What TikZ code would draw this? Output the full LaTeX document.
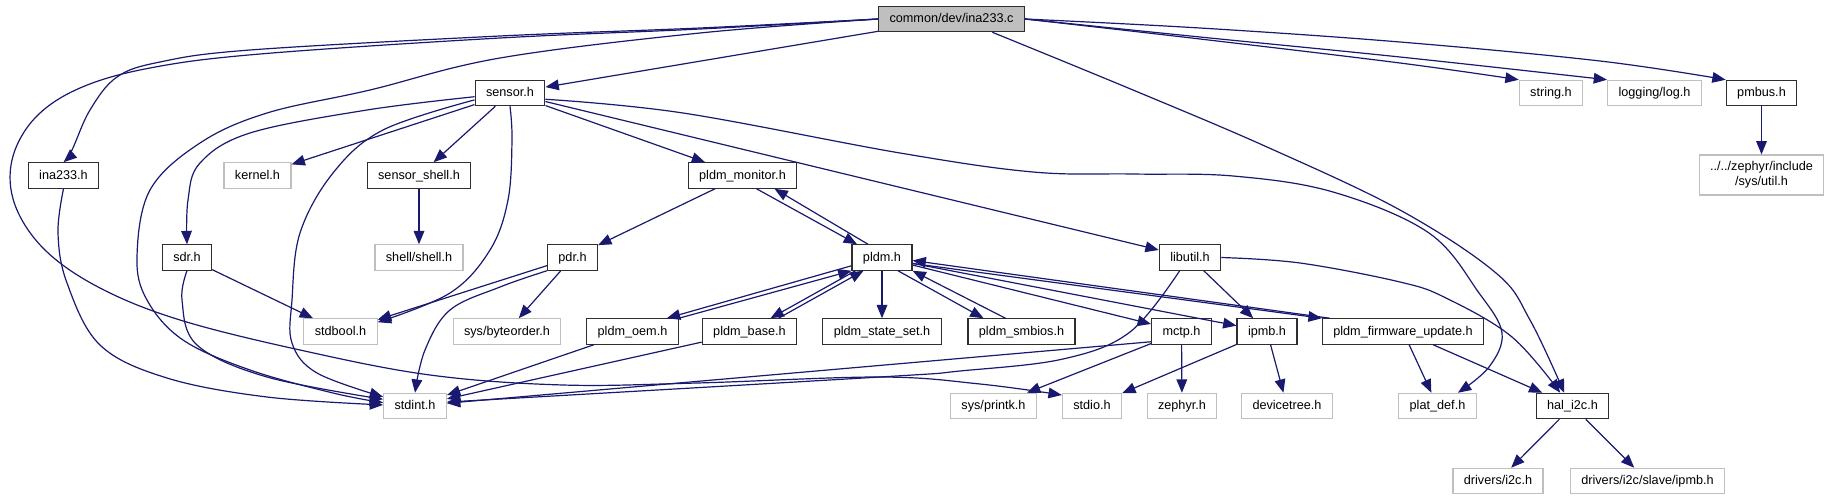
\documentclass[tikz,border=0pt]{standalone}
\usepackage{fontspec}
\setmainfont{Liberation Sans}
\usepackage{xcolor}
\definecolor{edgeBlue}{HTML}{191970}
\definecolor{rootGrey}{HTML}{BFBFBF}
\definecolor{extGrey}{HTML}{BFBFBF}
\definecolor{linkBorder}{HTML}{2E2E2E}
\usepackage{tikz}
\usetikzlibrary{arrows.meta,calc}
\tikzset{
  incnode/.style={
    draw=linkBorder,
    fill=white,
    line width=0.9pt,
    font=\fontsize{9.5}{11.25}\selectfont,
    inner xsep=8.2pt,
    inner ysep=0pt,
    minimum height=19pt,
    text height=7.4pt,
    text depth=2pt
  },
  incroot/.style={
    incnode,
    fill=rootGrey
  },
  incext/.style={
    incnode,
    draw=extGrey
  },
  incline/.style={
    draw=edgeBlue,
    line width=0.9pt,
    -{Triangle[length=10pt,width=8pt]}
  }
}
\begin{document}
\begin{tikzpicture}[x=0.75pt,y=-0.75pt]
  \path[use as bounding box, fill=white] (0,0) rectangle (1829,500);
  \node[incroot] (inac) at (951.5,19) {common/dev/ina233.c};
  \node[incnode] (sensorh) at (510,93) {sensor.h};
  \node[incext] (stringh) at (1551,93) {string.h};
  \node[incext] (logh) at (1654.5,93) {logging/log.h};
  \node[incnode] (pmbush) at (1761.5,93) {pmbus.h};
  \node[incnode] (inah) at (63.5,175.5) {ina233.h};
  \node[incext] (kernelh) at (257.5,175.5) {kernel.h};
  \node[incnode] (sshellh) at (419,175.5) {sensor\_shell.h};
  \node[incnode] (monitorh) at (742.5,175.5) {pldm\_monitor.h};
  \node[incext, text height=, text depth=, align=center, minimum height=30pt] (utilh) at (1761.5,175) {../../zephyr/include\\/sys/util.h};
  \node[incnode] (sdrh) at (187,257.5) {sdr.h};
  \node[incext] (shellh) at (419,257.5) {shell/shell.h};
  \node[incnode] (pdrh) at (572.5,257.5) {pdr.h};
  \node[incnode] (pldmh) at (882,257.5) {pldm.h};
  \node[incnode] (libutilh) at (1190,257.5) {libutil.h};
  \node[incext] (stdboolh) at (340.5,331.5) {stdbool.h};
  \node[incext] (byteorderh) at (507,331.5) {sys/byteorder.h};
  \node[incnode] (oemh) at (632.5,331.5) {pldm\_oem.h};
  \node[incnode] (baseh) at (749.5,331.5) {pldm\_base.h};
  \node[incnode] (statesetth) at (882,331.5) {pldm\_state\_set.h};
  \node[incnode] (smbiosh) at (1021.5,331.5) {pldm\_smbios.h};
  \node[incnode] (mctph) at (1181.5,331.5) {mctp.h};
  \node[incnode] (ipmbh) at (1267,331.5) {ipmb.h};
  \node[incnode] (fwuph) at (1403,331.5) {pldm\_firmware\_update.h};
  \node[incext] (stdinth) at (415,406) {stdint.h};
  \node[incext] (printkh) at (993.5,406) {sys/printk.h};
  \node[incext] (stdioh) at (1092,406) {stdio.h};
  \node[incext] (zephyrh) at (1182,406) {zephyr.h};
  \node[incext] (devtreeh) at (1287,406) {devicetree.h};
  \node[incext] (platdefh) at (1437.5,406) {plat\_def.h};
  \node[incnode] (hali2ch) at (1572.5,406) {hal\_i2c.h};
  \node[incext] (drvi2ch) at (1498,481) {drivers/i2c.h};
  \node[incext] (drvipmbh) at (1647.5,481) {drivers/i2c/slave/ipmb.h};
  \foreach \src/\dst in {inac/sensorh,sensorh/kernelh,sensorh/sshellh,sensorh/monitorh,sensorh/libutilh,sshellh/shellh,pmbush/utilh,sdrh/stdboolh,pdrh/stdboolh,pdrh/byteorderh,monitorh/pdrh,pldmh/statesetth,pldmh/mctph,pldmh/ipmbh,libutilh/ipmbh,oemh/stdinth,baseh/stdinth,mctph/printkh,mctph/zephyrh,ipmbh/stdioh,ipmbh/devtreeh,fwuph/platdefh,fwuph/hali2ch,hali2ch/drvi2ch,hali2ch/drvipmbh}{\draw[incline] (\src) -- (\dst);}
  \draw[incline] ($(monitorh.south)+(14,0)$) -- ($(pldmh.north)+(-25,0)$);
  \draw[incline] ($(pldmh.north)+(-14,0)$) -- ($(monitorh.south)+(32,0)$);
  \draw[incline] ($(pldmh.south west)+(0,-5)$) -- ($(oemh.north east)+(-12,0)$);
  \draw[incline] (oemh.north east) -- (pldmh.south west);
  \draw[incline] ($(pldmh.south west)+(4,0)$) -- ($(baseh.north)+(21,0)$);
  \draw[incline] ($(baseh.north)+(29,0)$) -- ($(pldmh.south west)+(12,0)$);
  \draw[incline] ($(pldmh.south)+(16,0)$) -- ($(smbiosh.north)+(-38,0)$);
  \draw[incline] ($(smbiosh.north)+(-16,0)$) -- (pldmh.south east);
  \draw[incline] ($(pldmh.east)+(0,6)$) -- (fwuph.north west);
  \draw[incline] ($(fwuph.north west)+(8,0)$) -- ($(pldmh.east)+(0,3)$);
  \draw[incline] ($(mctph.south west)+(0,-3)$) -- (stdinth);
  \draw[incline] plot[smooth, tension=0.6] coordinates {(inac.west) (700,28) (500,36) (250,50) (160,62) (117,77) (90,110) (72,150) (inah.north)};
  \draw[incline] plot[smooth, tension=0.6] coordinates {(inac.west) (700,29) (500,38) (260,54) (150,68) (80,88) (35,118) (12,160) (15,205) (45,250) (100,288) (180,320) (300,350) (430,375) (563,385) (697,383) (880,377) (980,384) (stdioh.160)};
  \draw[incline] plot[smooth, tension=0.6] coordinates {(inac.west) (700,33) (500,58) (370,90) (267,113) (200,143) (150,190) (137,257) (147,300) (183,340) (250,370) (333,393) (stdinth.174)};
  \draw[incline] plot[smooth, tension=0.6] coordinates {(inah.south) (58,233) (67,283) (100,345) (167,378) (267,397) (stdinth.178)};
  \draw[incline] plot[smooth, tension=0.6] coordinates {(sdrh.south) (182,300) (197,345) (267,377) (stdinth.168)};
  \draw[incline] plot[smooth, tension=0.6] coordinates {(sensorh.191) (383,130) (333,173) (300,233) (292,300) (292,343) (317,373) (stdinth.164)};
  \draw[incline] plot[smooth, tension=0.6] coordinates {(sensorh.186) (367,110) (250,133) (200,163) (188,200) (sdrh.north)};
  \draw[incline] plot[smooth, tension=0.6] coordinates {(sensorh.south) (512,140) (508,200) (490,250) (450,293) (stdboolh.14)};
  \draw[incline] plot[smooth, tension=0.6] coordinates {(pdrh.south west) (500,287) (450,310) (425,350) (stdinth.north)};
  \draw[incline] plot[smooth, tension=0.6] coordinates {(libutilh.232) (1130,332) (1063,359) (960,371) (880,377) (stdinth.7)};
  \draw[incline] plot[smooth, tension=0.6] coordinates {(inac.east) (1200,28) (1400,42) (1600,61) (pmbush.north west)};
  \draw[incline] plot[smooth, tension=0.6] coordinates {(inac.east) (1200,37) (1400,57) (logh.north west)};
  \draw[incline] plot[smooth, tension=0.6] coordinates {(inac.east) (1200,39) (1400,63) (stringh.north west)};
  \draw[incline] plot[smooth, tension=0.6] coordinates {(inac.342) (1133,90) (1267,147) (1400,210) (1496,273) (1530,320) (hali2ch.122)};
  \draw[incline] plot[smooth, tension=0.6] coordinates {(sensorh.350) (683,113) (900,153) (1033,172) (1133,174) (1233,176) (1333,192) (1429,233) (1479,293) (1502,333) (1489,367) (platdefh.33)};
  \draw[incline] plot[smooth, tension=0.6] coordinates {(libutilh.east) (1300,263) (1400,282) (1446,298) (1512,337) (hali2ch.133)};
\end{tikzpicture}
\end{document}
